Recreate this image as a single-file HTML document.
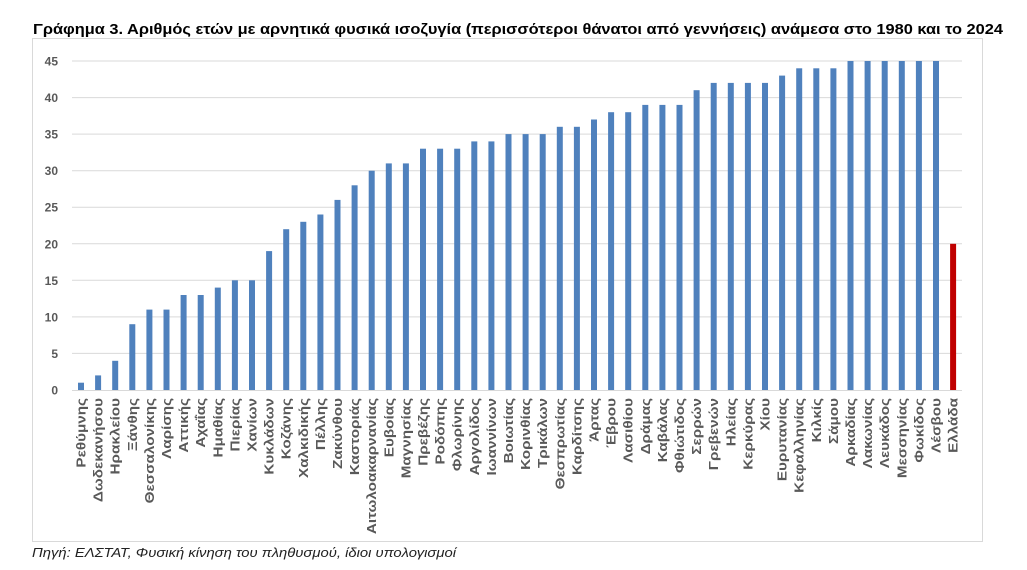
<!DOCTYPE html>
<html><head><meta charset="utf-8"><style>
body{margin:0;background:#fff;width:1027px;height:565px;overflow:hidden;font-family:"Liberation Sans","DejaVu Sans",sans-serif}
</style></head><body>
<svg width="1027" height="565" xmlns="http://www.w3.org/2000/svg" font-family="Liberation Sans, DejaVu Sans, sans-serif">
<text x="33" y="34" font-size="14.5" font-weight="bold" fill="#000" textLength="970" lengthAdjust="spacingAndGlyphs">Γράφημα 3. Αριθμός ετών με αρνητικά φυσικά ισοζυγία (περισσότεροι θάνατοι από γεννήσεις) ανάμεσα στο 1980 και το 2024</text>
<rect x="32.5" y="38.5" width="950" height="503" fill="#fff" stroke="#d9d9d9"/>
<g id="g"></g>
<text x="32" y="557" font-size="13" font-style="italic" fill="#222" textLength="424" lengthAdjust="spacingAndGlyphs">Πηγή: ΕΛΣΤΑΤ, Φυσική κίνηση του πληθυσμού, ίδιοι υπολογισμοί</text>
</svg>
<script>
var names=["Ρεθύμνης","Δωδεκανήσου","Ηρακλείου","Ξάνθης","Θεσσαλονίκης","Λαρίσης","Αττικής","Αχαΐας","Ημαθίας","Πιερίας","Χανίων","Κυκλάδων","Κοζάνης","Χαλκιδικής","Πέλλης","Ζακύνθου","Καστοριάς","Αιτωλοακαρνανίας","Ευβοίας","Μαγνησίας","Πρεβέζης","Ροδόπης","Φλωρίνης","Αργολίδος","Ιωαννίνων","Βοιωτίας","Κορινθίας","Τρικάλων","Θεσπρωτίας","Καρδίτσης","Άρτας","Έβρου","Λασιθίου","Δράμας","Καβάλας","Φθιώτιδος","Σερρών","Γρεβενών","Ηλείας","Κερκύρας","Χίου","Ευρυτανίας","Κεφαλληνίας","Κιλκίς","Σάμου","Αρκαδίας","Λακωνίας","Λευκάδος","Μεσσηνίας","Φωκίδος","Λέσβου","Ελλάδα"];
var v=[1,2,4,9,11,11,13,13,14,15,15,19,22,23,24,26,28,30,31,31,33,33,33,34,34,35,35,35,36,36,37,38,38,39,39,39,41,42,42,42,42,43,44,44,44,45,45,45,45,45,45,20];
var s="",y0=390,k=329/45;
for(var i=0;i<=9;i++){var y=(y0-i*5*k).toFixed(1);
 if(i>0)s+='<line x1="72" x2="962" y1="'+y+'" y2="'+y+'" stroke="#d9d9d9"/>';
 s+='<text x="58" y="'+(+y+4.5)+'" font-size="12" font-weight="bold" fill="#595959" text-anchor="end">'+i*5+'</text>';}
for(var i=0;i<52;i++){var x=81+i*17.1,h=v[i]*k;
 s+='<rect x="'+(x-3).toFixed(1)+'" y="'+(y0-h).toFixed(1)+'" width="6" height="'+h.toFixed(1)+'" fill="'+(i==51?'#c00000':'#4f81bd')+'"/>';
 s+='<text transform="translate('+(x+4.5).toFixed(1)+',398) rotate(-90) scale(1.22,1)" font-size="12.5" font-weight="bold" fill="#595959" text-anchor="end">'+names[i]+'</text>';}
s+='<line x1="72" x2="962" y1="390.5" y2="390.5" stroke="#d9d9d9"/>';
document.getElementById("g").innerHTML=s;
</script>
</body></html>
